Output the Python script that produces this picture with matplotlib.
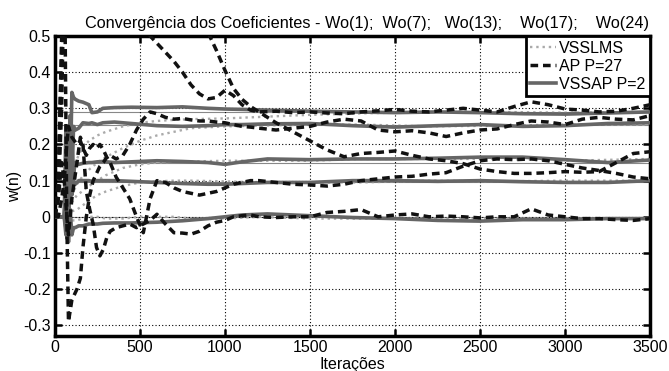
import numpy as np
import matplotlib
matplotlib.use("Agg")
import matplotlib.pyplot as plt

plt.rcParams['font.family'] = ['Liberation Sans', 'DejaVu Sans']

# valores verdadeiros dos coeficientes Wo(1), Wo(7), Wo(13), Wo(17), Wo(24)
wo_true = [0.29, 0.255, 0.15, 0.095, 0.0]

# VSSLMS
it_lms = [0, 50, 80, 100, 130, 160, 200, 250, 300, 400, 500, 600, 700, 800, 1000,
          1200, 1500, 1800, 2200, 2600, 3000, 3500]
lms_w1 = [0, 0, 0.06, 0.12, 0.16, 0.19, 0.21, 0.225, 0.235, 0.25, 0.26, 0.265, 0.268,
          0.27, 0.272, 0.276, 0.282, 0.286, 0.29, 0.29, 0.288, 0.29]
lms_w7 = [0, 0, 0.03, 0.06, 0.09, 0.11, 0.13, 0.15, 0.165, 0.19, 0.21, 0.225, 0.235,
          0.245, 0.25, 0.252, 0.255, 0.255, 0.25, 0.252, 0.255, 0.255]
lms_w13 = [0, 0, 0.02, 0.04, 0.06, 0.07, 0.085, 0.1, 0.115, 0.135, 0.145, 0.15, 0.152,
           0.153, 0.155, 0.155, 0.155, 0.16, 0.16, 0.16, 0.155, 0.16]
lms_w17 = [0, 0, 0.01, 0.015, 0.02, 0.03, 0.045, 0.06, 0.07, 0.085, 0.095, 0.098, 0.1,
           0.1, 0.098, 0.095, 0.095, 0.095, 0.1, 0.098, 0.1, 0.1]
lms_w24 = [0, 0, 0, -0.01, -0.01, -0.005, 0, 0, -0.005, -0.005, 0, 0, 0, -0.005,
           -0.005, 0, -0.005, -0.005, -0.005, -0.005, -0.005, -0.005]

# VSSAP P=2
it_vssap = [0, 55, 65, 72, 80, 90, 100, 110, 120, 140, 165, 200, 218, 250, 282, 350,
            450, 600, 750, 900, 1000, 1100, 1250, 1500, 1750, 2000, 2250, 2500, 2750,
            3000, 3250, 3500]
vssap_w1 = [0, 0, 0.25, -0.05, 0.2, 0.1, 0.344, 0.33, 0.325, 0.32, 0.317, 0.31, 0.288,
            0.29, 0.3, 0.302, 0.303, 0.302, 0.304, 0.3, 0.298, 0.297, 0.295, 0.292,
            0.29, 0.288, 0.29, 0.288, 0.285, 0.284, 0.287, 0.29]
vssap_w7 = [0, 0, -0.05, 0.2, 0.0, 0.28, 0.1, 0.25, 0.24, 0.245, 0.26, 0.258, 0.26,
            0.255, 0.26, 0.262, 0.258, 0.252, 0.25, 0.252, 0.255, 0.255, 0.257, 0.258,
            0.252, 0.248, 0.252, 0.255, 0.25, 0.252, 0.258, 0.26]
vssap_w13 = [0, 0, 0.1, -0.06, 0.15, 0.05, 0.2, 0.12, 0.15, 0.145, 0.148, 0.15, 0.15,
             0.152, 0.153, 0.15, 0.152, 0.155, 0.153, 0.15, 0.145, 0.152, 0.16, 0.158,
             0.16, 0.16, 0.162, 0.165, 0.165, 0.158, 0.15, 0.157]
vssap_w17 = [0, 0, 0.05, 0.1, -0.02, 0.12, 0.06, 0.1, 0.09, 0.1, 0.1, 0.1, 0.098, 0.1,
             0.1, 0.1, 0.098, 0.095, 0.092, 0.09, 0.09, 0.092, 0.095, 0.095, 0.1, 0.1,
             0.098, 0.1, 0.097, 0.095, 0.095, 0.1]
vssap_w24 = [0, 0, -0.03, 0.05, -0.07, 0.02, -0.05, -0.03, -0.03, -0.025, -0.025, -0.02,
             -0.02, -0.02, -0.018, -0.017, -0.017, -0.015, -0.011, -0.005, 0.0, 0.005,
             0.008, 0.003, -0.002, -0.005, -0.01, -0.012, -0.008, -0.008, -0.005, -0.005]

# AP P=27
it_ap = [0, 20, 40, 55, 70, 80, 100, 130, 150, 165, 185, 205, 225, 245, 265, 285, 305,
         325, 360, 400, 440, 480, 520, 560, 600, 650, 700, 750, 800, 850, 900, 950,
         1000, 1050, 1100, 1150, 1200, 1300, 1400, 1500, 1600, 1700, 1800, 1900, 2000,
         2100, 2200, 2300, 2400, 2500, 2600, 2700, 2800, 2900, 3000, 3100, 3200, 3300,
         3400, 3500]
ap_w1 = [0, 0.1, 0.45, 0.9, 1.2, 1.3, 1.4, 1.4, 1.35, 1.3, 1.25, 1.2, 1.15, 1.1, 1.05,
         1.0, 0.95, 0.9, 0.82, 0.74, 0.66, 0.6, 0.55, 0.5, 0.48, 0.455, 0.43, 0.40,
         0.365, 0.34, 0.326, 0.33, 0.35, 0.335, 0.31, 0.295, 0.29, 0.292, 0.288, 0.29,
         0.287, 0.285, 0.29, 0.293, 0.297, 0.292, 0.29, 0.295, 0.3, 0.295, 0.29, 0.305,
         0.318, 0.31, 0.298, 0.295, 0.29, 0.292, 0.3, 0.31]
ap_w7 = [0, 0.1, 0.5, 0.8, 0.0, -0.29, -0.23, -0.2, -0.17, -0.085, 0.0, 0.06, 0.1,
         0.12, 0.14, 0.15, 0.165, 0.17, 0.16, 0.17, 0.2, 0.24, 0.27, 0.29, 0.285, 0.275,
         0.27, 0.272, 0.268, 0.265, 0.265, 0.262, 0.26, 0.255, 0.25, 0.248, 0.245, 0.24,
         0.245, 0.25, 0.262, 0.27, 0.265, 0.24, 0.235, 0.238, 0.232, 0.222, 0.232, 0.24,
         0.243, 0.255, 0.265, 0.262, 0.255, 0.27, 0.275, 0.27, 0.268, 0.28]
ap_w13 = [0, 0.05, 0.3, 0.7, 1.0, 1.1, 1.2, 1.25, 1.3, 1.3, 1.3, 1.3, 1.28, 1.26, 1.25,
          1.23, 1.2, 1.18, 1.15, 1.1, 1.05, 1.0, 0.95, 0.9, 0.85, 0.8, 0.74, 0.68, 0.61,
          0.56, 0.51, 0.46, 0.405, 0.355, 0.325, 0.305, 0.29, 0.26, 0.235, 0.21, 0.185,
          0.166, 0.175, 0.178, 0.182, 0.17, 0.16, 0.155, 0.147, 0.132, 0.125, 0.12,
          0.12, 0.122, 0.125, 0.123, 0.125, 0.15, 0.175, 0.18]
ap_w17 = [0, 0.05, 0.15, 0.1, 0.2, 0.25, 0.22, 0.2, 0.21, 0.19, 0.17, 0.19, 0.2, 0.19,
          0.2, 0.185, 0.165, 0.15, 0.11, 0.08, 0.05, 0.0, -0.044, 0.05, 0.1, 0.095,
          0.08, 0.07, 0.065, 0.06, 0.065, 0.07, 0.08, 0.09, 0.095, 0.1, 0.1, 0.095, 0.09,
          0.088, 0.085, 0.09, 0.1, 0.105, 0.11, 0.112, 0.118, 0.122, 0.14, 0.155, 0.16,
          0.158, 0.16, 0.155, 0.145, 0.135, 0.128, 0.12, 0.11, 0.105]
ap_w24 = [0, 0.0, 0.05, 0.1, 0.0, -0.05, 0.05, 0.15, 0.22, 0.2, 0.07, 0.02, -0.02,
          -0.085, -0.108, -0.09, -0.058, -0.04, -0.03, -0.025, -0.02, -0.03, -0.02,
          -0.01, 0.007, -0.02, -0.044, -0.045, -0.048, -0.04, -0.025, -0.015, -0.01,
          0.0, 0.003, 0.005, 0.0, -0.002, 0.0, 0.0, 0.012, 0.015, 0.02, 0.0, 0.005,
          0.008, 0.0, 0.002, 0.0, -0.003, 0.0, 0.0, 0.022, 0.005, 0.0, -0.005, -0.005,
          -0.008, -0.01, -0.005]

fig, ax = plt.subplots(figsize=(6.69, 3.71), dpi=100)
fig.subplots_adjust(left=0.082, right=0.972, top=0.903, bottom=0.094)

for w in wo_true:
    ax.axhline(w, color='#888888', linewidth=0.8, zorder=1)

lms = [lms_w1, lms_w7, lms_w13, lms_w17, lms_w24]
vssap = [vssap_w1, vssap_w7, vssap_w13, vssap_w17, vssap_w24]
ap = [ap_w1, ap_w7, ap_w13, ap_w17, ap_w24]

for k, y in enumerate(lms):
    ax.plot(it_lms, y, color='#aaaaaa', linestyle=':', linewidth=1.7, zorder=2,
            label='VSSLMS' if k == 0 else None)
for k, y in enumerate(vssap):
    ax.plot(it_vssap, y, color='#666666', linestyle='-', linewidth=2.6, zorder=3,
            label='VSSAP P=2' if k == 0 else None)
for k, y in enumerate(ap):
    ax.plot(it_ap, y, color='#111111', linestyle=(0, (2.2, 1.4)), linewidth=2.5,
            zorder=4, label='AP P=27' if k == 0 else None)

ax.set_xlim(0, 3500)
ax.set_ylim(-0.33, 0.5)
ax.set_xticks(range(0, 3501, 500))
yt = [-0.3, -0.2, -0.1, 0, 0.1, 0.2, 0.3, 0.4, 0.5]
ax.set_yticks(yt)
ax.set_yticklabels(['-0.3', '-0.2', '-0.1', '0', '0.1', '0.2', '0.3', '0.4', '0.5'])
ax.tick_params(direction='in', length=5, width=1.8, top=True, right=True,
               labelsize=11.5, pad=3)
ax.grid(True, color='black', linestyle=(0, (1, 2)), linewidth=0.8)
for s in ax.spines.values():
    s.set_linewidth(2.5)

ax.set_title('Convergência dos Coeficientes - Wo(1);  Wo(7);   Wo(13);    Wo(17);    Wo(24)',
             fontsize=11.7, pad=6, x=0.525)
ax.set_xlabel('Iterações', fontsize=11.5, labelpad=1.5)
ax.set_ylabel('w(n)', fontsize=11.5, labelpad=1)

h, l = ax.get_legend_handles_labels()
order = [0, 2, 1]
leg = ax.legend([h[i] for i in order], [l[i] for i in order], loc='upper right',
                borderaxespad=0, fontsize=11.5, handlelength=1.6, handletextpad=0.2,
                labelspacing=0.18, borderpad=0.3, fancybox=False, framealpha=1)
leg.get_frame().set_edgecolor('black')
leg.get_frame().set_linewidth(2)

fig.savefig('out.png', dpi=100)
